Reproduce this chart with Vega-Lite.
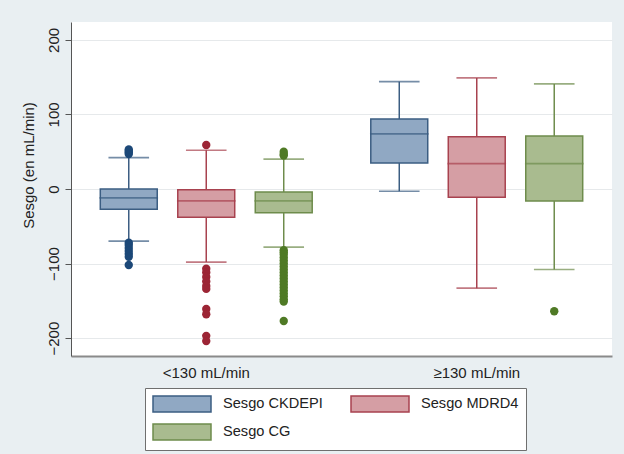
{
  "$schema": "https://vega.github.io/schema/vega-lite/v6.json",
  "width": 541,
  "height": 334,
  "autosize": {"type": "none"},
  "padding": {"left": 71, "top": 22, "right": 12, "bottom": 98},
  "background": "#e9eff2",
  "config": {
    "view": {"fill": "white", "stroke": null},
    "font": "Liberation Sans",
    "axis": {
      "labelFont": "Liberation Sans",
      "titleFont": "Liberation Sans",
      "labelFontSize": 15,
      "titleFontSize": 15,
      "labelColor": "#222",
      "titleColor": "#222",
      "titleFontWeight": "normal"
    },
    "legend": {
      "labelFont": "Liberation Sans",
      "labelFontSize": 14.6,
      "labelColor": "#222"
    }
  },
  "datasets": {
    "stats": [
      {"grupo": "<130 mL/min", "serie": "Sesgo CKDEPI", "lower": -70, "q1": -27, "median": -12, "q3": 0, "upper": 42},
      {"grupo": "<130 mL/min", "serie": "Sesgo MDRD4", "lower": -98, "q1": -38, "median": -16, "q3": -1, "upper": 52},
      {"grupo": "<130 mL/min", "serie": "Sesgo CG", "lower": -78, "q1": -32, "median": -16, "q3": -4, "upper": 40},
      {"grupo": "≥130 mL/min", "serie": "Sesgo CKDEPI", "lower": -3, "q1": 35, "median": 74, "q3": 94, "upper": 144},
      {"grupo": "≥130 mL/min", "serie": "Sesgo MDRD4", "lower": -133, "q1": -11, "median": 34, "q3": 70, "upper": 149},
      {"grupo": "≥130 mL/min", "serie": "Sesgo CG", "lower": -108, "q1": -16, "median": 34, "q3": 71, "upper": 141}
    ],
    "outliers": [
      {"grupo": "<130 mL/min", "serie": "Sesgo CKDEPI", "valor": 47},
      {"grupo": "<130 mL/min", "serie": "Sesgo CKDEPI", "valor": 49},
      {"grupo": "<130 mL/min", "serie": "Sesgo CKDEPI", "valor": 51},
      {"grupo": "<130 mL/min", "serie": "Sesgo CKDEPI", "valor": 53},
      {"grupo": "<130 mL/min", "serie": "Sesgo CKDEPI", "valor": -72},
      {"grupo": "<130 mL/min", "serie": "Sesgo CKDEPI", "valor": -75},
      {"grupo": "<130 mL/min", "serie": "Sesgo CKDEPI", "valor": -79},
      {"grupo": "<130 mL/min", "serie": "Sesgo CKDEPI", "valor": -83},
      {"grupo": "<130 mL/min", "serie": "Sesgo CKDEPI", "valor": -87},
      {"grupo": "<130 mL/min", "serie": "Sesgo CKDEPI", "valor": -91},
      {"grupo": "<130 mL/min", "serie": "Sesgo CKDEPI", "valor": -102},
      {"grupo": "<130 mL/min", "serie": "Sesgo MDRD4", "valor": 59},
      {"grupo": "<130 mL/min", "serie": "Sesgo MDRD4", "valor": -107},
      {"grupo": "<130 mL/min", "serie": "Sesgo MDRD4", "valor": -112},
      {"grupo": "<130 mL/min", "serie": "Sesgo MDRD4", "valor": -118},
      {"grupo": "<130 mL/min", "serie": "Sesgo MDRD4", "valor": -124},
      {"grupo": "<130 mL/min", "serie": "Sesgo MDRD4", "valor": -130},
      {"grupo": "<130 mL/min", "serie": "Sesgo MDRD4", "valor": -134},
      {"grupo": "<130 mL/min", "serie": "Sesgo MDRD4", "valor": -161},
      {"grupo": "<130 mL/min", "serie": "Sesgo MDRD4", "valor": -168},
      {"grupo": "<130 mL/min", "serie": "Sesgo MDRD4", "valor": -197},
      {"grupo": "<130 mL/min", "serie": "Sesgo MDRD4", "valor": -204},
      {"grupo": "<130 mL/min", "serie": "Sesgo CG", "valor": 45},
      {"grupo": "<130 mL/min", "serie": "Sesgo CG", "valor": 47},
      {"grupo": "<130 mL/min", "serie": "Sesgo CG", "valor": 50},
      {"grupo": "<130 mL/min", "serie": "Sesgo CG", "valor": -82},
      {"grupo": "<130 mL/min", "serie": "Sesgo CG", "valor": -85},
      {"grupo": "<130 mL/min", "serie": "Sesgo CG", "valor": -88},
      {"grupo": "<130 mL/min", "serie": "Sesgo CG", "valor": -92},
      {"grupo": "<130 mL/min", "serie": "Sesgo CG", "valor": -96},
      {"grupo": "<130 mL/min", "serie": "Sesgo CG", "valor": -100},
      {"grupo": "<130 mL/min", "serie": "Sesgo CG", "valor": -104},
      {"grupo": "<130 mL/min", "serie": "Sesgo CG", "valor": -108},
      {"grupo": "<130 mL/min", "serie": "Sesgo CG", "valor": -112},
      {"grupo": "<130 mL/min", "serie": "Sesgo CG", "valor": -116},
      {"grupo": "<130 mL/min", "serie": "Sesgo CG", "valor": -120},
      {"grupo": "<130 mL/min", "serie": "Sesgo CG", "valor": -124},
      {"grupo": "<130 mL/min", "serie": "Sesgo CG", "valor": -128},
      {"grupo": "<130 mL/min", "serie": "Sesgo CG", "valor": -132},
      {"grupo": "<130 mL/min", "serie": "Sesgo CG", "valor": -136},
      {"grupo": "<130 mL/min", "serie": "Sesgo CG", "valor": -140},
      {"grupo": "<130 mL/min", "serie": "Sesgo CG", "valor": -144},
      {"grupo": "<130 mL/min", "serie": "Sesgo CG", "valor": -148},
      {"grupo": "<130 mL/min", "serie": "Sesgo CG", "valor": -151},
      {"grupo": "<130 mL/min", "serie": "Sesgo CG", "valor": -177},
      {"grupo": "≥130 mL/min", "serie": "Sesgo CG", "valor": -164}
    ]
  },
  "encoding": {
    "x": {
      "field": "grupo",
      "type": "nominal",
      "sort": ["<130 mL/min", "≥130 mL/min"],
      "scale": {"paddingInner": 0, "paddingOuter": 0},
      "title": null,
      "axis": {
        "labelAngle": 0,
        "ticks": false,
        "labelPadding": 9,
        "domainColor": "#8a8a8a",
        "domainWidth": 2,
        "grid": false
      }
    },
    "xOffset": {
      "field": "serie",
      "type": "nominal",
      "sort": ["Sesgo CKDEPI", "Sesgo MDRD4", "Sesgo CG"],
      "scale": {"paddingInner": 0.265, "paddingOuter": 0.378}
    }
  },
  "layer": [
    {
      "data": {"name": "stats"},
      "mark": {"type": "rule", "strokeWidth": 1.5},
      "encoding": {
        "y": {
          "field": "lower",
          "type": "quantitative",
          "scale": {"domain": [-224, 224], "nice": false, "zero": false},
          "title": "Sesgo (en mL/min)",
          "axis": {
            "values": [-200, -100, 0, 100, 200],
            "labelAngle": 270,
            "labelAlign": "center",
            "labelBaseline": "bottom",
            "labelPadding": 4,
            "tickSize": 6,
            "tickColor": "#555",
            "domainColor": "#555",
            "gridColor": "#e6e9eb",
            "titlePadding": 10,
            "titleY": 143
          }
        },
        "y2": {"field": "upper"},
        "stroke": {
          "field": "serie",
          "type": "nominal",
          "scale": {"domain": ["Sesgo CKDEPI", "Sesgo MDRD4", "Sesgo CG"], "range": ["#3b5d82", "#a8424f", "#6e8c4c"]},
          "legend": {
            "title": null,
            "orient": "none",
            "legendX": 74,
            "legendY": 366,
            "direction": "horizontal",
            "columns": 2,
            "columnPadding": 25,
            "rowPadding": 6,
            "padding": 7,
            "strokeColor": "#6f6f6f",
            "fillColor": "white",
            "symbolType": "M-1,-1H6.25V1H-1Z",
            "symbolSize": 256,
            "symbolStrokeWidth": 1.5,
            "labelOffset": 53
          }
        }
      }
    },
    {
      "data": {"name": "stats"},
      "mark": {"type": "bar", "strokeWidth": 1.5},
      "encoding": {
        "y": {"field": "q1", "type": "quantitative"},
        "y2": {"field": "q3"},
        "fill": {
          "field": "serie",
          "type": "nominal",
          "scale": {"domain": ["Sesgo CKDEPI", "Sesgo MDRD4", "Sesgo CG"], "range": ["#90a8c3", "#d59ea4", "#a9bb8f"]},
          "legend": {
            "title": null,
            "orient": "none",
            "legendX": 74,
            "legendY": 366,
            "direction": "horizontal",
            "columns": 2,
            "columnPadding": 25,
            "rowPadding": 6,
            "padding": 7,
            "strokeColor": "#6f6f6f",
            "fillColor": "white",
            "symbolType": "M-1,-1H6.25V1H-1Z",
            "symbolSize": 256,
            "symbolStrokeWidth": 1.5,
            "labelOffset": 53
          }
        },
        "stroke": {"field": "serie", "type": "nominal"}
      }
    },
    {
      "data": {"name": "stats"},
      "mark": {"type": "tick", "size": 57, "thickness": 0.1, "filled": false, "strokeWidth": 1.6},
      "encoding": {
        "y": {"field": "median", "type": "quantitative"},
        "stroke": {"field": "serie", "type": "nominal"}
      }
    },
    {
      "data": {"name": "stats"},
      "mark": {"type": "tick", "size": 39, "thickness": 0.1, "filled": false, "strokeWidth": 1.6},
      "encoding": {
        "y": {"field": "upper", "type": "quantitative"},
        "stroke": {"field": "serie", "type": "nominal"}
      }
    },
    {
      "data": {"name": "stats"},
      "mark": {"type": "tick", "size": 39, "thickness": 0.1, "filled": false, "strokeWidth": 1.6},
      "encoding": {
        "y": {"field": "lower", "type": "quantitative"},
        "stroke": {"field": "serie", "type": "nominal"}
      }
    },
    {
      "data": {"name": "outliers"},
      "mark": {"type": "point", "filled": true, "opacity": 1, "size": 70},
      "encoding": {
        "y": {"field": "valor", "type": "quantitative"},
        "color": {
          "field": "serie",
          "type": "nominal",
          "scale": {"domain": ["Sesgo CKDEPI", "Sesgo MDRD4", "Sesgo CG"], "range": ["#1c4878", "#9c2535", "#4f7a25"]},
          "legend": null
        }
      }
    }
  ]
}
